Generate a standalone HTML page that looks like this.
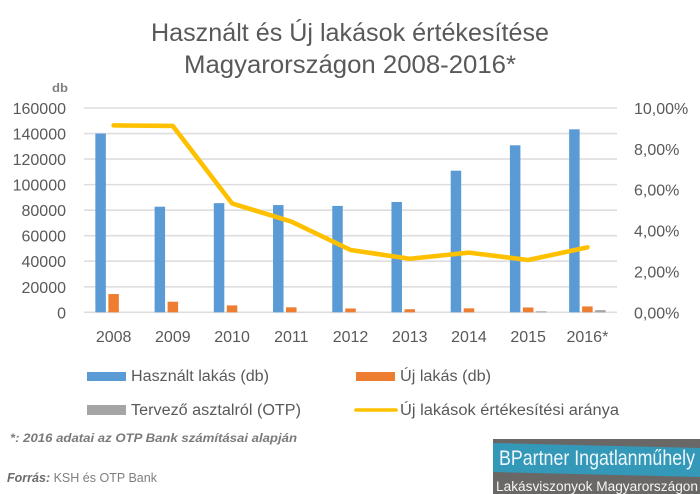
<!DOCTYPE html>
<html lang="hu">
<head>
<meta charset="utf-8">
<title>Használt és Új lakások értékesítése</title>
<style>
html,body{margin:0;padding:0;background:#fff;}
body{width:700px;height:494px;overflow:hidden;}
svg{display:block;filter:blur(0.35px);}
text{font-family:"Liberation Sans",sans-serif;}
</style>
</head>
<body>
<svg id="chart" xmlns="http://www.w3.org/2000/svg" width="700" height="494" viewBox="0 0 700 494">
  <rect x="0" y="0" width="700" height="494" fill="#ffffff"/>
  <g id="grid"></g>
  <g id="bars"></g>
  <g id="line"></g>
  <g id="axes"></g>

  <text x="350" y="41" text-anchor="middle" font-size="25" fill="#595959" textLength="398" lengthAdjust="spacingAndGlyphs">Használt és Új lakások értékesítése</text>
  <text x="350" y="73" text-anchor="middle" font-size="25" fill="#595959" textLength="332" lengthAdjust="spacingAndGlyphs">Magyarországon 2008-2016*</text>
  <text x="52" y="92" font-size="12" font-weight="bold" fill="#7f7f7f" textLength="16" lengthAdjust="spacingAndGlyphs">db</text>

  <g>
    <g>
      <rect x="87" y="372" width="39" height="9" fill="#5b9bd5"/>
      <text x="131" y="381" font-size="15.5" fill="#595959" textLength="138" lengthAdjust="spacingAndGlyphs">Használt lakás (db)</text>
    </g>
    <g>
      <rect x="356" y="372" width="39" height="9" fill="#ed7d31"/>
      <text x="400" y="381" font-size="15.5" fill="#595959" textLength="91" lengthAdjust="spacingAndGlyphs">Új lakás (db)</text>
    </g>
    <g>
      <rect x="87" y="405" width="39" height="10" fill="#a5a5a5"/>
      <text x="131" y="415" font-size="15.5" fill="#595959" textLength="170" lengthAdjust="spacingAndGlyphs">Tervező asztalról (OTP)</text>
    </g>
    <g>
      <line x1="356" y1="410" x2="396" y2="410" stroke="#ffc000" stroke-width="3.6" stroke-linecap="round"/>
      <text x="400" y="415" font-size="15.5" fill="#595959" textLength="219" lengthAdjust="spacingAndGlyphs">Új lakások értékesítési aránya</text>
    </g>
  </g>

  <text x="10" y="442" font-size="12" font-weight="bold" font-style="italic" fill="#7a7a7a" textLength="287" lengthAdjust="spacingAndGlyphs">*: 2016 adatai az OTP Bank számításai alapján</text>
  <text x="7" y="482" font-size="12.5" fill="#7f7f7f" textLength="150" lengthAdjust="spacingAndGlyphs"><tspan font-weight="bold" font-style="italic" fill="#6b6b6b">Forrás:</tspan> KSH és OTP Bank</text>

  <g>
    <rect x="493" y="439" width="207" height="55" fill="#6a6866"/>
    <polygon points="493,443 700,448 700,477 493,472" fill="#3498b9"/>
    <text x="499" y="465" font-size="21" fill="#eef7fa" textLength="196" lengthAdjust="spacingAndGlyphs">BPartner Ingatlanműhely</text>
    <text x="496" y="491" font-size="13.5" fill="#f5f5f5" textLength="202" lengthAdjust="spacingAndGlyphs">Lakásviszonyok Magyarországon</text>
  </g>
</svg>
<script>
const categories = ["2008", "2009", "2010", "2011", "2012", "2013", "2014", "2015", "2016*"];
const usedHomes = [140000, 82700, 85500, 84000, 83300, 86400, 110900, 130800, 143300];
const newHomes = [14300, 8300, 5400, 3900, 3000, 2400, 3100, 3800, 4600];
const offPlan = [0, 0, 0, 0, 0, 0, 0, 800, 1700];
const salesRatio = [9.15, 9.12, 5.33, 4.44, 3.05, 2.62, 2.92, 2.56, 3.18];
const leftTicks = [0, 20000, 40000, 60000, 80000, 100000, 120000, 140000, 160000];
const rightTicks = [0, 2, 4, 6, 8, 10];

const NS = "http://www.w3.org/2000/svg";
const plot = { left: 84, right: 617, top: 108, bottom: 312.3 };
const leftMax = 160000;
const rightMax = 10;
const barWidth = 10.5;
const barStep = 13;

function xCenter(i) {
  return plot.left + (i + 0.5) * (plot.right - plot.left) / categories.length;
}
function yLeft(v) {
  return plot.bottom - (v / leftMax) * (plot.bottom - plot.top);
}
function yRight(v) {
  return plot.bottom - (v / rightMax) * (plot.bottom - plot.top);
}
function make(tag, attrs, parent) {
  const el = document.createElementNS(NS, tag);
  for (const k in attrs) el.setAttribute(k, attrs[k]);
  parent.appendChild(el);
  return el;
}

const gridG = document.getElementById("grid");
const barsG = document.getElementById("bars");
const lineG = document.getElementById("line");
const axesG = document.getElementById("axes");

leftTicks.forEach(function (t) {
  const y = yLeft(t);
  const gl = make("line", { x1: plot.left, x2: plot.right, y1: y, y2: y, stroke: "#dedede", "stroke-width": 1.6 }, gridG);
  
  
  const lab = make("text", { x: 66, y: y + 6, "text-anchor": "end", "font-size": 16, fill: "#595959" }, axesG);
  
  
  lab.textContent = String(t);
});

rightTicks.forEach(function (t) {
  const lab = make("text", { x: 634, y: yRight(t) + 6, "font-size": 16, fill: "#595959" }, axesG);
  
  
  lab.textContent = t.toFixed(2).replace(".", ",") + "%";
});

categories.forEach(function (c, i) {
  const cx = xCenter(i);
  const lab = make("text", { x: cx, y: 342, "text-anchor": "middle", "font-size": 16, fill: "#595959" }, axesG);
  
  
  lab.textContent = c;

  const hUsed = plot.bottom - yLeft(usedHomes[i]);
  const b1 = make("rect", { x: cx - barStep - barWidth / 2, y: yLeft(usedHomes[i]), width: barWidth, height: hUsed, fill: "#5b9bd5" }, barsG);
  
  

  const hNew = plot.bottom - yLeft(newHomes[i]);
  const b2 = make("rect", { x: cx - barWidth / 2, y: yLeft(newHomes[i]), width: barWidth, height: hNew, fill: "#ed7d31" }, barsG);
  
  

  const hPlan = plot.bottom - yLeft(offPlan[i]);
  const b3 = make("rect", { x: cx + barStep - barWidth / 2, y: yLeft(offPlan[i]), width: barWidth, height: hPlan, fill: "#a5a5a5" }, barsG);
  
  
});

const pts = salesRatio.map(function (v, i) {
  return xCenter(i) + "," + yRight(v);
}).join(" ");
const poly = make("polyline", { points: pts, fill: "none", stroke: "#ffc000", "stroke-width": 4.6, "stroke-linecap": "round", "stroke-linejoin": "round" }, lineG);


</script>
</body>
</html>
